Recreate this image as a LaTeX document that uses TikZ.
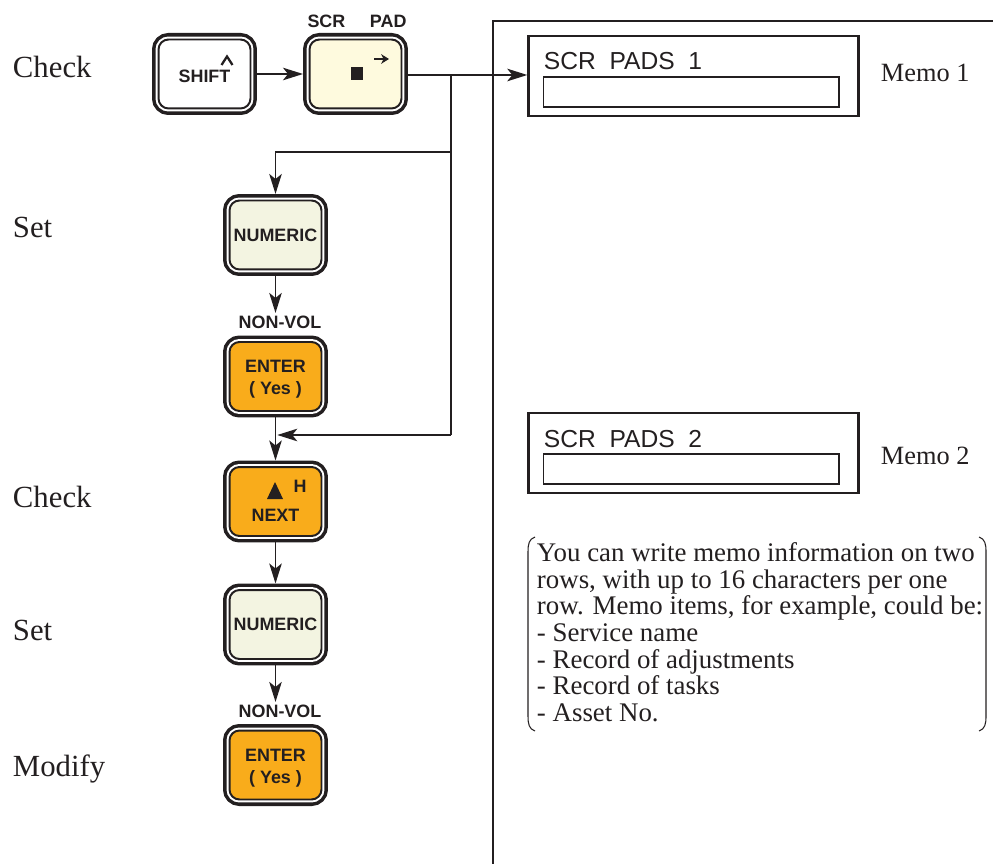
\documentclass[tikz,border=0pt]{standalone}
\usepackage{fontspec}
\setmainfont{Liberation Serif}
\setsansfont{Liberation Sans}
\usetikzlibrary{arrows.meta,positioning}
\definecolor{padcream}{HTML}{FEFADE}
\definecolor{numgreen}{HTML}{F3F4E1}
\definecolor{enterorange}{HTML}{F9AC1B}
\definecolor{ink}{HTML}{231F20}

\tikzset{
  key/.style={rounded corners=0.2cm, minimum width=1.84cm, minimum height=1.38cm,
    inner sep=0pt, outer sep=0.13cm,
    preaction={draw=ink, line width=7.4pt},
    preaction={draw=white, line width=3.4pt},
    draw=ink, line width=1.13pt, fill=#1, align=center, text=ink,
    font=\sffamily\bfseries\fontsize{10.2}{13}\selectfont},
  keylabel/.style={text=ink, inner sep=1pt, font=\sffamily\bfseries\fontsize{10.2}{12}\selectfont},
  step label/.style={text=ink, inner sep=0pt, anchor=base west, font=\fontsize{17.5}{20}\selectfont},
  display/.style={draw=ink, line width=1.4pt, minimum width=6.6cm, minimum height=1.6cm, inner sep=0pt},
  lcdrow/.style={draw=ink, line width=0.6pt, minimum width=5.92cm, minimum height=0.6cm, inner sep=0pt},
  lcdtext/.style={text=ink, inner sep=0pt, anchor=base west, font=\sffamily\fontsize{14}{16}\selectfont},
  memo/.style={text=ink, inner sep=0pt, anchor=base west, font=\fontsize{15}{17}\selectfont}
}
\newcommand{\enterlabel}{\raisebox{-10.5pt}[0pt][0pt]{\shortstack{ENTER\\[2.2pt]( Yes )}}}

\begin{document}
\begin{tikzpicture}[x=0.02cm, y=-0.02cm, line width=1.1pt, draw=ink,
    >={Stealth[length=0.4cm, width=0.25cm, inset=0.1cm]}]
  \useasboundingbox (0,0) rectangle (993,864);

  % Pasos
  \node[step label] (s1) at (12,78) {Check};
  \node[step label] (s2) at (12,238) {Set};
  \node[step label] (s3) at (12,507) {Check};
  \node[step label] (s4) at (12,640) {Set};
  \node[step label] (s5) at (12,776) {Modify};

  % Teclas
  \node[key=white] (shift) at (204.5,74) {\raisebox{-5pt}[0pt][0pt]{SHIFT}};
  \draw[line width=1.3pt, line join=miter] (221.5,65) -- (227,56.5) -- (232.5,65);
  \node[keylabel] (padlbl) at (357,21) {SCR\hspace{14pt}PAD};
  \node[key=padcream] (scrpad) at (355.5,74) {};
  \fill[ink] (351,67) rectangle (363,80);
  \draw[-{Stealth[length=4.5pt, width=5.5pt]}, line width=1.2pt] (374,59) -- (389,59);

  \node[key=numgreen] (num1) at (275.5,235) {NUMERIC};
  \node[keylabel] (nv1) at (280,322) {NON-VOL};
  \node[key=enterorange] (enter1) at (275.5,376.5) {\enterlabel};
  \node[key=enterorange] (next) at (275.5,501.5) {};
  \fill[ink] (267,499) -- (275,482) -- (283,499) -- cycle;
  \node[keylabel] (hlbl) at (300,486) {H};
  \node[keylabel] (nextlbl) at (275.5,515) {NEXT};
  \node[key=numgreen] (num2) at (275.5,624.5) {NUMERIC};
  \node[keylabel] (nv2) at (280,711) {NON-VOL};
  \node[key=enterorange] (enter2) at (275.5,765) {\enterlabel};

  % Pantalla
  \draw[line width=1.3pt] (493,864) |- (993,20.7);
  \node[display] (disp1) at (693.5,76) {};
  \node[lcdtext] (lcd1) at (543,70) {SCR\ \ PADS\ \ 1};
  \node[lcdrow] (row1) at (691,92) {};
  \node[memo] (memo1) at (880,82) {Memo 1};
  \node[display] (disp2) at (693.5,453) {};
  \node[lcdtext] (lcd2) at (543,447) {SCR\ \ PADS\ \ 2};
  \node[lcdrow] (row2) at (691,469) {};
  \node[memo] (memo2) at (880,464) {Memo 2};

  % Nota
  \node[memo, anchor=north west, align=left, font=\fontsize{15.3}{15.1}\selectfont] (note) at (536,542)
    {You can write memo information on two\\
     rows, with up to 16 characters per one\\
     row. Memo items, for example, could be:\\
     - Service name\\
     - Record of adjustments\\
     - Record of tasks\\
     - Asset No.};
  \draw[line width=0.6pt] (535,537) .. controls (529,539) and (528,544) .. (528,552)
    -- (528,716) .. controls (528,724) and (529,729) .. (535,731);
  \draw[line width=0.6pt] (979,537) .. controls (985,539) and (986,544) .. (986,552)
    -- (986,716) .. controls (986,724) and (985,729) .. (979,731);

  % Conexiones
  \coordinate (j1) at (451,75);
  \coordinate (j2) at (451,152);
  \coordinate (j3) at (451,435);
  \draw[->] (shift) -- (scrpad);
  \draw[->] (scrpad.east |- j1) -- (disp1.west |- j1);
  \draw (j1) -- (j3);
  \draw[->] (j2) -| (num1.north);
  \draw[->, shorten >=1pt] (j3) -- (j3 -| enter1.south);
  \draw[->] (num1) -- (num1.south |- nv1.north);
  \draw[->] (enter1) -- (next);
  \draw[->] (next) -- (num2);
  \draw[->] (num2) -- (num2.south |- nv2.north);
\end{tikzpicture}
\end{document}
